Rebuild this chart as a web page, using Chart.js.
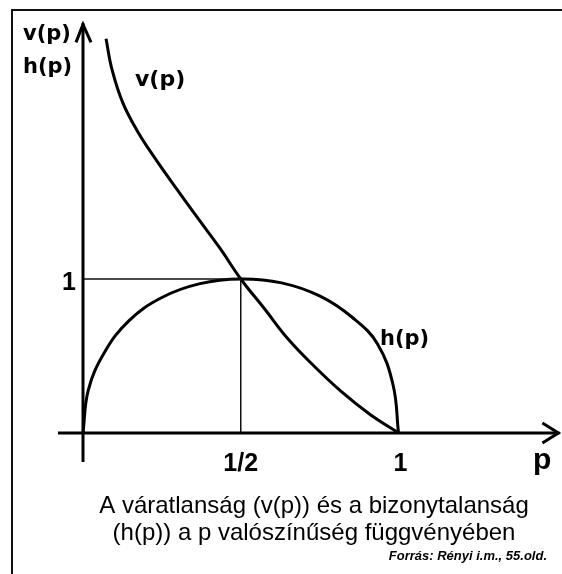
<!DOCTYPE html>
<html>
<head>
<meta charset="utf-8">
<script src="https://cdn.jsdelivr.net/npm/chart.js@4.4.1/dist/chart.umd.min.js"></script>
<style>
  html, body { margin: 0; padding: 0; background: #fff; }
  #wrap { position: relative; width: 562px; height: 574px; }
  #keret { position: absolute; left: 11px; top: 9px; right: 0; bottom: 0; border-top: 2px solid #111; border-left: 2px solid #111; }
</style>
</head>
<body>
<div id="wrap">
  <div id="keret"></div>
  <canvas id="abra"></canvas>
</div>
<script>
// p ertekek es a leolvasott gorbepontok
var pVar = [0.073, 0.092, 0.127, 0.174, 0.228, 0.295, 0.364, 0.434, 0.5, 0.574, 0.65, 0.732, 0.821, 0.91, 1.0];
var vErt = [2.56, 2.36, 2.14, 1.955, 1.785, 1.59, 1.395, 1.2, 1.0, 0.81, 0.61, 0.435, 0.265, 0.12, 0];

var pBiz = [0, 0.017, 0.067, 0.146, 0.25, 0.371, 0.5, 0.629, 0.75, 0.854, 0.933, 0.983, 1.0];
var hErt = [0, 0.28, 0.52, 0.73, 0.88, 0.97, 1.0, 0.975, 0.89, 0.75, 0.58, 0.31, 0];

// segedvonalak: 1 es 1/2
var segedP = [0, 0.5, 0.5];
var segedY = [1, 1, 0];

var xCimkek = [{ v: 0.5, t: '1/2' }, { v: 1, t: '1' }];
var yCimkek = [{ v: 1, t: '1' }];

function pontok(xs, ys) {
  return xs.map(function (x, i) { return { x: x, y: ys[i] }; });
}

var tengelyek = {
  id: 'tengelyek',
  afterDatasetsDraw: function (chart) {
    var c = chart.ctx;
    var sx = chart.scales.x, sy = chart.scales.y;
    var x0 = sx.getPixelForValue(0), y0 = sy.getPixelForValue(0);
    var yTop = sy.getPixelForValue(2.66);
    var xEnd = sx.getPixelForValue(1.51);
    c.save();
    c.strokeStyle = '#000';
    c.lineWidth = 3;
    c.lineCap = 'butt';
    // y tengely
    c.beginPath();
    c.moveTo(x0, y0 + 29);
    c.lineTo(x0, yTop);
    c.stroke();
    c.beginPath();
    c.moveTo(x0 - 7, yTop + 19);
    c.lineTo(x0, yTop + 1);
    c.lineTo(x0 + 8, yTop + 19);
    c.stroke();
    // x tengely
    c.beginPath();
    c.moveTo(x0 - 25, y0);
    c.lineTo(xEnd, y0);
    c.stroke();
    c.beginPath();
    c.moveTo(xEnd - 17, y0 - 10);
    c.lineTo(xEnd - 1, y0);
    c.lineTo(xEnd - 17, y0 + 10);
    c.stroke();

    c.fillStyle = '#000';
    c.textBaseline = 'middle';
    c.font = 'bold 25px "Liberation Sans", Arial, sans-serif';
    c.textAlign = 'center';
    xCimkek.forEach(function (l) {
      c.fillText(l.t, sx.getPixelForValue(l.v) + (l.v === 1 ? 2 : 0), y0 + 31);
    });
    c.textAlign = 'right';
    yCimkek.forEach(function (l) {
      c.fillText(l.t, x0 - 7, sy.getPixelForValue(l.v) + 4);
    });
    c.textAlign = 'left';
    c.textBaseline = 'alphabetic';
    c.font = 'bold 30px "Liberation Sans", Arial, sans-serif';
    c.fillText('p', 533, 469);

    c.textBaseline = 'middle';
    c.font = 'bold 21px "DejaVu Sans", Verdana, sans-serif';
    c.fillText('v(p)', 23, 35);
    c.fillText('h(p)', 23, 68);
    c.font = 'bold 22px "DejaVu Sans", Verdana, sans-serif';
    c.fillText('v(p)', 135, 80);
    c.font = 'bold 21px "DejaVu Sans", Verdana, sans-serif';
    c.fillText('h(p)', 380, 340);

    c.textBaseline = 'alphabetic';
    c.textAlign = 'center';
    c.font = '24px "Liberation Sans", Arial, sans-serif';
    c.fillText('A váratlanság (v(p)) és a bizonytalanság', 314, 513);
    c.fillText('(h(p)) a p valószínűség függvényében', 314, 540);
    c.textAlign = 'right';
    c.font = 'italic bold 13px "Liberation Sans", Arial, sans-serif';
    c.fillText('Forrás: Rényi i.m., 55.old.', 547, 560);
    c.restore();
  }
};

new Chart(document.getElementById('abra'), {
  type: 'line',
  plugins: [tengelyek],
  data: {
    datasets: [
      {
        label: 'segéd',
        data: pontok(segedP, segedY),
        borderColor: '#111',
        borderWidth: 1.5,
        pointRadius: 0,
        tension: 0,
        clip: false
      },
      {
        label: 'v(p)',
        data: pontok(pVar, vErt),
        borderColor: '#000',
        borderWidth: 3,
        pointRadius: 0,
        tension: 0.4,
        clip: false
      },
      {
        label: 'h(p)',
        data: pontok(pBiz, hErt),
        borderColor: '#000',
        borderWidth: 3,
        pointRadius: 0,
        tension: 0.4,
        clip: false
      }
    ]
  },
  options: {
    responsive: true,
    maintainAspectRatio: false,
    animation: false,
    layout: { padding: { left: 83, right: 163.5, top: 32.6, bottom: 141 } },
    elements: { line: { capBezierPoints: false } },
    scales: {
      x: { type: 'linear', min: 0, max: 1, display: false },
      y: { type: 'linear', min: 0, max: 2.6, display: false }
    },
    plugins: {
      legend: { display: false },
      tooltip: { enabled: false }
    }
  }
});
</script>
</body>
</html>
